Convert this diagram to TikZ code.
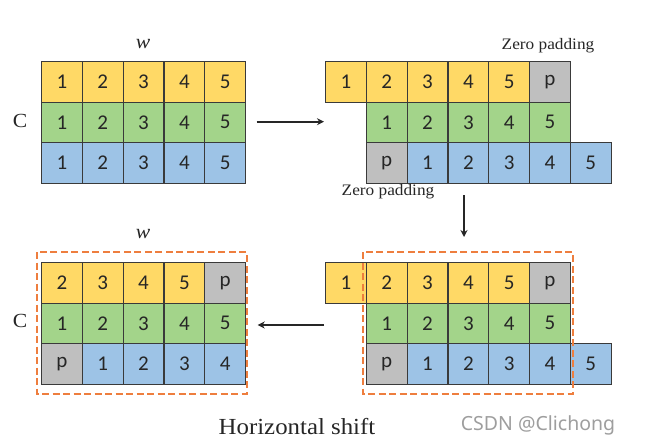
\documentclass[tikz,border=0pt]{standalone}
\usepackage{fontspec}
\usetikzlibrary{arrows.meta}
\newfontfamily\cellfont{Carlito}
\newfontfamily\capfont[FakeStretch=1.08]{Liberation Serif}
\newfontfamily\wmfont{Noto Sans}
\definecolor{cy}{HTML}{FFD966}
\definecolor{cgr}{HTML}{A3D48A}
\definecolor{cb}{HTML}{9DC3E6}
\definecolor{cp}{HTML}{BFBFBF}
\definecolor{cellline}{HTML}{3A3A3A}
\definecolor{dashor}{HTML}{EE7E3E}
\begin{document}
\begin{tikzpicture}[x=1pt,y=-1pt,
  cell/.style={draw=cellline,line width=1.1pt,minimum width=40.8pt,minimum height=40.5pt,
    inner sep=0pt,anchor=north west,font=\cellfont\fontsize{21}{21}\selectfont,text=black!85},
  dashbox/.style={draw=dashor,line width=2pt,dash pattern=on 7pt off 3.5pt},
  conn/.style={line width=1.6pt,black!85,-{Stealth[length=7pt,width=7pt]}},
  lab/.style={inner sep=0pt,font=\capfont\fontsize{16}{16}\selectfont,text=black!85},
]
\useasboundingbox (0,0) rectangle (652,440);

% ---------- top-left grid
\foreach \v/\c [count=\i from 0] in {1/cy,2/cy,3/cy,4/cy,5/cy}
  \node[cell,fill=\c] (tla\i) at ({41+\i*40.8},61) {\v};
\foreach \v/\c [count=\i from 0] in {1/cgr,2/cgr,3/cgr,4/cgr,5/cgr}
  \node[cell,fill=\c] (tlb\i) at ({41+\i*40.8},101.5) {\v};
\foreach \v/\c [count=\i from 0] in {1/cb,2/cb,3/cb,4/cb,5/cb}
  \node[cell,fill=\c] (tlc\i) at ({41+\i*40.8},142) {\v};

% ---------- top-right grid
\foreach \v/\c [count=\i from 0] in {1/cy,2/cy,3/cy,4/cy,5/cy,p/cp}
  \node[cell,fill=\c] (tra\i) at ({325+\i*40.8},61) {\v};
\foreach \v/\c [count=\i from 0] in {1/cgr,2/cgr,3/cgr,4/cgr,5/cgr}
  \node[cell,fill=\c] (trb\i) at ({365.8+\i*40.8},101.5) {\v};
\foreach \v/\c [count=\i from 0] in {p/cp,1/cb,2/cb,3/cb,4/cb,5/cb}
  \node[cell,fill=\c] (trc\i) at ({365.8+\i*40.8},142) {\v};

% ---------- bottom-left grid
\foreach \v/\c [count=\i from 0] in {2/cy,3/cy,4/cy,5/cy,p/cp}
  \node[cell,fill=\c] (bla\i) at ({41+\i*40.8},262) {\v};
\foreach \v/\c [count=\i from 0] in {1/cgr,2/cgr,3/cgr,4/cgr,5/cgr}
  \node[cell,fill=\c] (blb\i) at ({41+\i*40.8},302.5) {\v};
\foreach \v/\c [count=\i from 0] in {p/cp,1/cb,2/cb,3/cb,4/cb}
  \node[cell,fill=\c] (blc\i) at ({41+\i*40.8},343) {\v};

% ---------- bottom-right grid
\foreach \v/\c [count=\i from 0] in {1/cy,2/cy,3/cy,4/cy,5/cy,p/cp}
  \node[cell,fill=\c] (bra\i) at ({325+\i*40.8},262) {\v};
\foreach \v/\c [count=\i from 0] in {1/cgr,2/cgr,3/cgr,4/cgr,5/cgr}
  \node[cell,fill=\c] (brb\i) at ({365.8+\i*40.8},302.5) {\v};
\foreach \v/\c [count=\i from 0] in {p/cp,1/cb,2/cb,3/cb,4/cb,5/cb}
  \node[cell,fill=\c] (brc\i) at ({365.8+\i*40.8},343) {\v};

% ---------- dashed frames
\draw[dashbox] (36.7,252) rectangle (246.7,393.5);
\draw[dashbox] (362.5,252) rectangle (572.5,393.5);

% ---------- labels
\node[lab,font=\capfont\itshape\fontsize{20}{20}\selectfont] (w1) at (143,44) {w};
\node[lab,font=\capfont\itshape\fontsize{20}{20}\selectfont] (w2) at (143,234) {w};
\node[lab,font=\capfont\fontsize{20}{20}\selectfont] (c1) at (20,121) {C};
\node[lab,font=\capfont\fontsize{20}{20}\selectfont] (c2) at (20,321) {C};
\node[lab] (zp1) at (548,46) {Zero padding};
\node[lab] (zp2) at (388,192) {Zero padding};
\node[lab,font=\capfont\fontsize{23}{23}\selectfont] (hs) at (297,427) {Horizontal shift};
\node[inner sep=0pt,font=\wmfont\fontsize{19.5}{19.5}\selectfont,text=black!38] (wm) at (538,425) {CSDN @Clichong};

% ---------- connectors
\coordinate (a1s) at (256.7,121.7);
\coordinate (a1e) at (324,121.7);
\coordinate (a2s) at (464,195);
\coordinate (a2e) at (464,237);
\coordinate (a3s) at (324,325);
\coordinate (a3e) at (257.7,325);
\draw[conn] (a1s) -- (a1e);
\draw[conn] (a2s) -- (a2e);
\draw[conn] (a3s) -- (a3e);
\end{tikzpicture}
\end{document}
